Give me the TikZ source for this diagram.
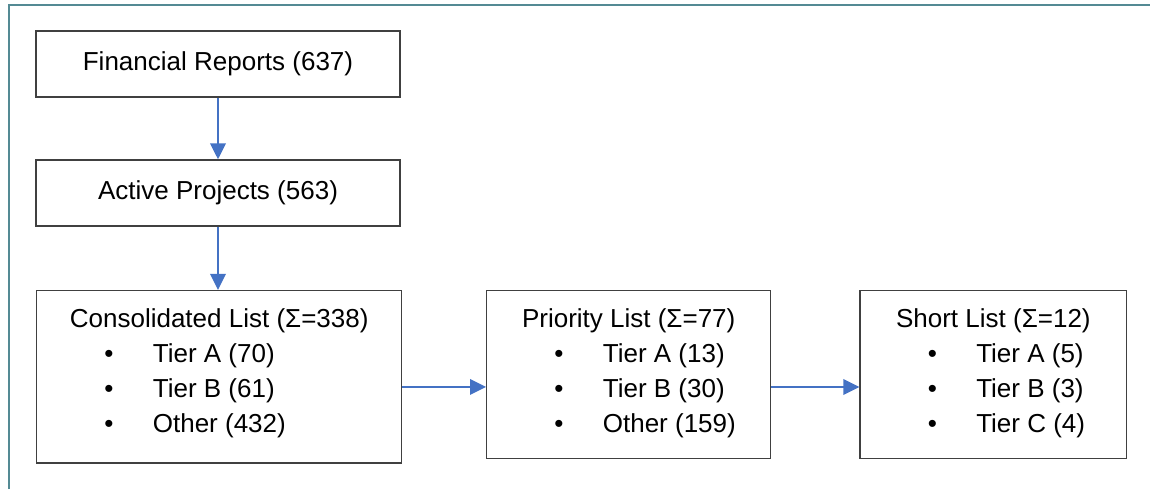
\documentclass[tikz,border=0pt]{standalone}
\usepackage{fontspec}
\setmainfont{Liberation Sans}
\usetikzlibrary{arrows.meta, positioning, calc}
\definecolor{framegray}{RGB}{84,138,148}
\definecolor{flowblue}{RGB}{68,114,196}
\definecolor{boxgray}{RGB}{64,64,64}

\begin{document}
\begin{tikzpicture}[font=\fontsize{14.8}{17.8}\selectfont,
    stage/.style={draw=boxgray, line width=0.8pt, inner sep=0pt},
    flow/.style={draw=flowblue, line width=1.1pt, -{Triangle[length=0.32cm, width=0.31cm]}}]
        \useasboundingbox (0,0) rectangle (23,-9.78);
        \draw[framegray, line width=1.1pt] (0.18,-9.78) -- (0.18,-0.1) -- (23,-0.1);
        % top chain
        \node[stage, minimum width=7.28cm, minimum height=1.32cm] (fin) at (4.36,-1.28) {Financial Reports (637)};
        \node[stage, minimum width=7.28cm, minimum height=1.32cm] (act) at (4.36,-3.86) {Active Projects (563)};
        % list boxes
        \node[stage, minimum width=7.30cm, minimum height=3.45cm] (cons) at (4.384,-7.538) {};
        \node[stage, minimum width=5.68cm, minimum height=3.35cm] (prio) at (12.574,-7.49) {};
        \node[stage, minimum width=5.33cm, minimum height=3.35cm] (short) at (19.867,-7.49) {};
        \foreach \bx/\ttl/\ia/\ib/\ic in {
            cons/{Consolidated List (Σ=338)}/{Tier A (70)}/{Tier B (61)}/{Other (432)},
            prio/{Priority List (Σ=77)}/{Tier A (13)}/{Tier B (30)}/{Other (159)},
            short/{Short List (Σ=12)}/{Tier A (5)}/{Tier B (3)}/{Tier C (4)}}
        {
            \node[anchor=base] (\bx-t) at ([yshift=-0.746cm]\bx.north) {\ttl};
            \foreach \itm/\k in {\ia/1, \ib/2, \ic/3}
            {
                \node[anchor=base, inner sep=0pt] (\bx-b\k) at ([xshift=1.46cm, yshift={-(0.746+0.7*\k)*1cm}]\bx.north west) {\textbullet};
                \node[anchor=base west, inner sep=0pt] (\bx-\k) at ([xshift=2.33cm, yshift={-(0.746+0.7*\k)*1cm}]\bx.north west) {\itm};
            }
        }
        % connectors
        \draw[flow] (fin.south) -- (act.north);
        \draw[flow] (act.south) -- (act.south |- cons.north);
        \draw[flow] ([yshift=-0.2cm]cons.east) -- ([yshift=-0.2cm]cons.east -| prio.west);
        \draw[flow] ([yshift=-0.25cm]prio.east) -- ([yshift=-0.25cm]prio.east -| short.west);
    \end{tikzpicture}
\end{document}
